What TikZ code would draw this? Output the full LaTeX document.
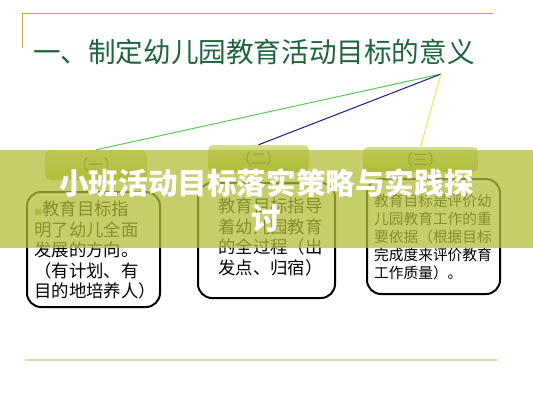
\documentclass[tikz,border=0pt]{standalone}
\usepackage{fontspec}
\setmainfont{Noto Sans CJK SC}
\definecolor{titlegreen}{RGB}{30,100,60}
\definecolor{rulegold}{RGB}{195,165,75}
\definecolor{rulebeige}{RGB}{222,212,170}
\definecolor{tabtop}{RGB}{214,224,140}
\definecolor{tabbot}{RGB}{172,188,62}
\definecolor{bandgreen}{RGB}{180,190,60}
\definecolor{linegreen}{RGB}{90,200,90}
\definecolor{lineblue}{RGB}{25,25,140}
\definecolor{lineyellow}{RGB}{235,235,90}
\definecolor{bulletgreen}{RGB}{165,175,60}
\tikzset{
	tab/.style={rounded corners=5pt, top color=tabtop, bottom color=tabbot,
	            inner sep=0pt, font=\fontsize{15}{15}\selectfont, text=black!70},
	card/.style={draw=black, line width=2pt, rounded corners=14pt,
	             fill=white, inner sep=0pt},
	cardtext/.style={anchor=north west, inner sep=0pt, align=left},
	banner/.style={text=white, align=center, inner sep=0pt,
	               font=\fontsize{29.6}{35}\selectfont\bfseries}
}

\begin{document}
\begin{tikzpicture}[x=1pt, y=-1pt]
\useasboundingbox (0,0) rectangle (533,400);
\fill[white] (0,0) rectangle (533,400);
\draw[rulegold, line width=1pt] (22,48) -- (22,13) -- (493,13);
\draw[rulebeige, line width=2.5pt] (25,360) -- (497,360);
\node[anchor=base west, inner sep=0pt, text=titlegreen,
      font=\fontsize{27.6}{27.6}\selectfont] (title) at (33,62)
      {一、制定幼儿园教育活动目标的意义};
\coordinate (hub) at (441,74);
\node[tab, minimum width=102pt, minimum height=30pt] (tabA) at (96,165) {（一）};
\node[tab, minimum width=101pt, minimum height=27pt] (tabB) at (258.5,158.5) {（二）};
\node[tab, minimum width=115pt, minimum height=25pt] (tabC) at (420.5,159.5) {（三）};
\draw[linegreen, line width=1pt] (hub) -- (tabA.north);
\draw[lineblue, line width=1pt] (hub) -- (tabB.north);
\draw[lineyellow, line width=1pt] (hub) -- (tabC.north);
\node[card, minimum width=133pt, minimum height=115pt] (cardA) at (93.5,249.5) {};
\node[card, minimum width=137pt, minimum height=115pt] (cardB) at (266.5,240.5) {};
\node[card, minimum width=133pt, minimum height=115pt] (cardC) at (433.5,236.5) {};
\node[cardtext, font=\fontsize{17.4}{20.5}\selectfont] (textA) at (34,201)
	{{\color{bulletgreen}\fontsize{8}{8}\selectfont ■}教育目标指\\明了幼儿全面\\发展的方向。\\（有计划、有\\目的地培养人）};
\node[cardtext, font=\fontsize{17.4}{20.5}\selectfont] (textB) at (218,198)
	{教育目标指导\\着幼儿园教育\\的全过程（出\\发点、归宿）};
\node[cardtext, font=\fontsize{14.7}{18}\selectfont] (textC) at (374,194)
	{教育目标是评价幼\\儿园教育工作的重\\要依据（根据目标\\完成度来评价教育\\工作质量）。};
\fill[bandgreen, opacity=0.75] (0,150) rectangle (533,248);
\node[banner] (heading) at (266.5,200.5) {小班活动目标落实策略与实践探\\讨};
\end{tikzpicture}
\end{document}
